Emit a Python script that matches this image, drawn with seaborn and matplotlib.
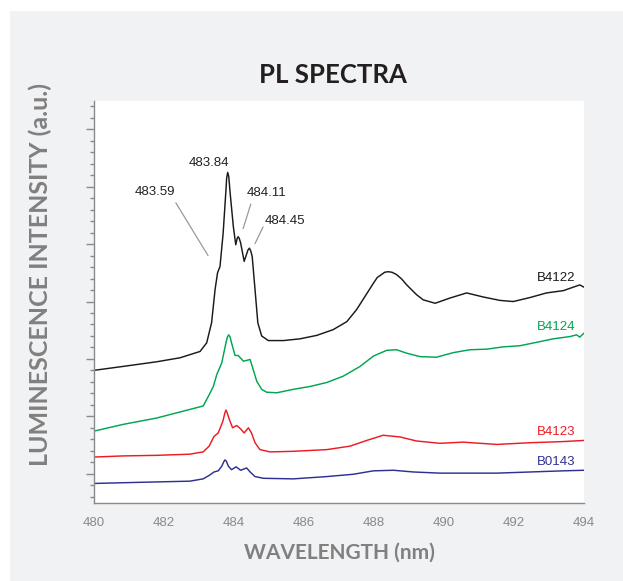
import pandas as pd
import numpy as np
import matplotlib
matplotlib.use('Agg')
import matplotlib.pyplot as plt
import seaborn as sns
from matplotlib.ticker import MultipleLocator

# Spectra (wavelength in nm, intensity in arbitrary units)
b4122_x = [480.00, 480.85, 481.80, 482.47, 483.04, 483.23, 483.37, 483.47, 483.54, 483.61,
           483.70, 483.78, 483.80, 483.83, 483.86, 483.90, 483.99, 484.06, 484.10, 484.13,
           484.16, 484.20, 484.30, 484.41, 484.45, 484.49, 484.53, 484.61, 484.69, 484.80,
           484.99, 485.42, 485.89, 486.37, 486.84, 487.23, 487.51, 487.75, 487.99, 488.10,
           488.22, 488.31, 488.41, 488.52, 488.65, 488.80, 488.94, 489.22, 489.41, 489.75,
           490.17, 490.65, 491.12, 491.60, 491.98, 492.46, 492.93, 493.41, 493.88, 494.00]
b4122_y = [2.80, 2.87, 2.95, 3.02, 3.13, 3.28, 3.63, 4.21, 4.50, 4.61,
           5.19, 5.94, 6.15, 6.25, 6.18, 5.89, 5.31, 4.99, 5.10, 5.13,
           5.10, 5.02, 4.70, 4.90, 4.93, 4.88, 4.78, 4.21, 3.63, 3.40,
           3.32, 3.32, 3.35, 3.41, 3.51, 3.65, 3.86, 4.09, 4.32, 4.42,
           4.47, 4.51, 4.52, 4.51, 4.47, 4.39, 4.29, 4.12, 4.03, 3.97,
           4.06, 4.15, 4.08, 4.02, 4.00, 4.07, 4.15, 4.19, 4.29, 4.25]

b4124_x = [480.00, 480.85, 481.80, 482.56, 483.13, 483.28, 483.42, 483.52, 483.66, 483.78,
           483.82, 483.86, 483.90, 483.94, 484.04, 484.13, 484.28, 484.47, 484.56, 484.66,
           484.80, 484.94, 485.23, 485.70, 486.18, 486.66, 487.13, 487.61, 487.99, 488.37,
           488.65, 488.94, 489.32, 489.79, 490.27, 490.74, 491.22, 491.69, 492.17, 492.65,
           493.12, 493.60, 493.79, 493.88, 494.00]
b4124_y = [1.74, 1.86, 1.97, 2.09, 2.18, 2.35, 2.52, 2.73, 2.93, 3.28,
           3.38, 3.42, 3.38, 3.28, 3.06, 3.06, 2.96, 2.99, 2.81, 2.61,
           2.47, 2.42, 2.41, 2.47, 2.52, 2.59, 2.70, 2.87, 3.05, 3.15,
           3.16, 3.10, 3.04, 3.03, 3.11, 3.16, 3.17, 3.21, 3.23, 3.29,
           3.35, 3.39, 3.42, 3.38, 3.45]

b4123_x = [480.00, 480.85, 481.80, 482.75, 483.13, 483.30, 483.44, 483.56, 483.69, 483.75,
           483.78, 483.81, 483.88, 483.97, 484.09, 484.20, 484.30, 484.42, 484.51, 484.61,
           484.75, 485.04, 485.70, 486.66, 487.32, 487.80, 488.27, 488.75, 489.22, 489.89,
           490.55, 491.51, 492.46, 493.41, 494.00]
b4123_y = [1.29, 1.31, 1.32, 1.34, 1.38, 1.48, 1.65, 1.71, 1.91, 2.06,
           2.11, 2.07, 1.94, 1.80, 1.84, 1.78, 1.71, 1.80, 1.71, 1.54,
           1.42, 1.38, 1.39, 1.42, 1.48, 1.58, 1.67, 1.64, 1.57, 1.53,
           1.55, 1.51, 1.54, 1.56, 1.58]

b0143_x = [480.00, 481.33, 482.75, 483.13, 483.30, 483.44, 483.56, 483.66, 483.72, 483.75,
           483.79, 483.85, 483.94, 484.07, 484.20, 484.37, 484.47, 484.61, 484.85, 485.70,
           486.66, 487.41, 487.99, 488.56, 489.13, 489.89, 490.55, 491.51, 492.46, 493.41,
           494.00]
b0143_y = [0.83, 0.85, 0.87, 0.91, 0.97, 1.03, 1.05, 1.13, 1.21, 1.24,
           1.22, 1.13, 1.07, 1.12, 1.06, 1.10, 1.03, 0.95, 0.92, 0.91,
           0.95, 0.99, 1.05, 1.06, 1.03, 1.01, 1.01, 1.01, 1.03, 1.05,
           1.06]

samples = ['B4122', 'B4124', 'B4123', 'B0143']
colors = ['#1a1a1a', '#00a651', '#ed1c24', '#2e3192']
label_y = [4.41, 3.56, 1.72, 1.21]

# peak labels: text, text position, leader line start/end
peak_labels = ['483.84', '483.59', '484.11', '484.45']
peak_text_x = [483.30, 481.75, 484.95, 485.47]
peak_text_y = [6.41, 5.91, 5.89, 5.41]
peak_line_x0 = [None, 482.35, 484.49, 484.84]
peak_line_y0 = [None, 5.72, 5.70, 5.30]
peak_line_x1 = [None, 483.27, 484.27, 484.61]
peak_line_y1 = [None, 4.80, 5.27, 5.01]

df = pd.concat([
    pd.DataFrame({'wavelength': b4122_x, 'intensity': b4122_y, 'sample': 'B4122'}),
    pd.DataFrame({'wavelength': b4124_x, 'intensity': b4124_y, 'sample': 'B4124'}),
    pd.DataFrame({'wavelength': b4123_x, 'intensity': b4123_y, 'sample': 'B4123'}),
    pd.DataFrame({'wavelength': b0143_x, 'intensity': b0143_y, 'sample': 'B0143'}),
], ignore_index=True)

sns.set_style('white')
plt.rcParams['font.family'] = ['Liberation Sans', 'DejaVu Sans']

fig = plt.figure(figsize=(6.23, 5.81), dpi=100)
fig.patch.set_facecolor('white')
# grey panel behind the chart
fig.patches.append(plt.Rectangle((9.5 / 623, 0), 1, 1 - 11 / 581, transform=fig.transFigure,
                                 facecolor='#f1f2f4', edgecolor='none', zorder=-10))

ax = fig.add_axes([0.1501, 0.1343, 0.7873, 0.6924])
ax.set_facecolor('white')

sns.lineplot(data=df, x='wavelength', y='intensity', hue='sample', hue_order=samples,
             palette=colors, estimator=None, linewidth=1.05, legend=False, ax=ax)

ax.set_xlim(480, 494)
ax.set_ylim(0.49, 7.5)
ax.xaxis.set_major_locator(MultipleLocator(2))
ax.xaxis.set_minor_locator(MultipleLocator(0.5))
ax.yaxis.set_major_locator(MultipleLocator(1))
ax.yaxis.set_minor_locator(MultipleLocator(0.2))
ax.set_yticklabels([])

grey = '#8a8a8a'
for s in ['top', 'right']:
    ax.spines[s].set_visible(False)
for s in ['left', 'bottom']:
    ax.spines[s].set_color(grey)
    ax.spines[s].set_linewidth(1.0)

ax.tick_params(axis='x', which='major', direction='out', length=4, width=1, color=grey,
               labelcolor=grey, labelsize=9.5, pad=6)
ax.tick_params(axis='x', which='minor', direction='out', length=3, width=1, color=grey)
ax.tick_params(axis='y', which='major', direction='out', length=6, width=1, color=grey, left=True)
ax.tick_params(axis='y', which='minor', direction='out', length=3, width=1, color=grey, left=True)
ax.set_xlabel('')
ax.set_ylabel('')

for name, c, yy in zip(samples, colors, label_y):
    ax.text(493.74, yy, name, color=c, fontsize=9.5, ha='right', va='center')

for i, lab in enumerate(peak_labels):
    ax.text(peak_text_x[i], peak_text_y[i], lab, color='#222222', fontsize=9.5,
            ha='center', va='center')
    if peak_line_x0[i] is not None:
        ax.plot([peak_line_x0[i], peak_line_x1[i]], [peak_line_y0[i], peak_line_y1[i]],
                color='#999999', linewidth=0.9)

fig.text(333 / 623, 1 - 75 / 581, 'PL SPECTRA', family=['Lato', 'DejaVu Sans'],
         fontweight='bold', fontsize=18.5, color='#231f20', ha='center', va='center')
fig.text(339 / 623, 1 - 553 / 581, 'WAVELENGTH (nm)', family=['Lato', 'DejaVu Sans'],
         fontweight='bold', fontsize=15, color='#808080', ha='center', va='center')
fig.text(40 / 623, 1 - 275 / 581, 'LUMINESCENCE INTENSITY (a.u.)', family=['Lato', 'DejaVu Sans'],
         fontweight='bold', fontsize=18, color='#808080', ha='center', va='center', rotation=90)

fig.savefig('out.png', dpi=100)
